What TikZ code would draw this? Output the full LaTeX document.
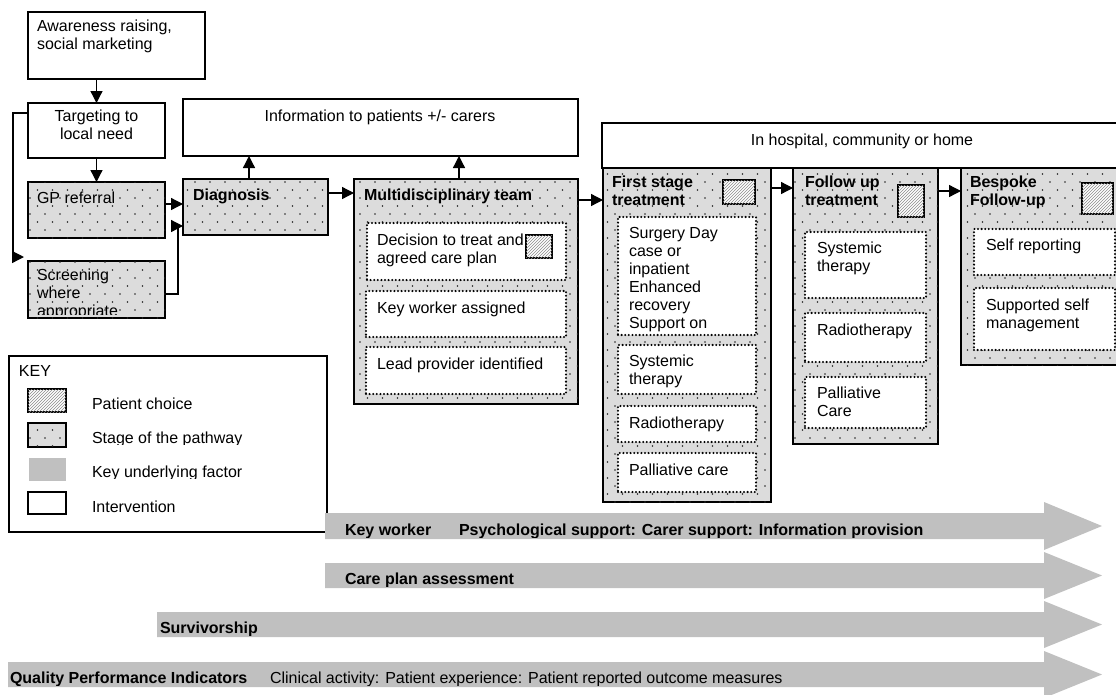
\documentclass[tikz,border=0pt]{standalone}
\usepackage{fontspec}
\setmainfont{Liberation Sans}
\usetikzlibrary{patterns,arrows.meta,fit}
\pgfdeclarepatternformonly{sparsedots}{\pgfqpoint{-1pt}{-1pt}}{\pgfqpoint{9pt}{9pt}}{\pgfqpoint{15pt}{16pt}}{%
  \pgfpathcircle{\pgfqpoint{0pt}{0pt}}{0.9pt}%
  \pgfpathcircle{\pgfqpoint{7.5pt}{8pt}}{0.9pt}%
  \pgfusepath{fill}}
\definecolor{stagefill}{RGB}{220,220,220}
\definecolor{keygray}{RGB}{192,192,192}
\newcommand\tstrut{\rule{0pt}{12pt}}
\newcommand\greyarrow[3]{%
  \fill[keygray] (#1,#2) -- (1044,#2) -- (1044,#2-11) -- (1102,{(#2+#3)/2}) -- (1044,#3+11) -- (1044,#3) -- (#1,#3) -- cycle;}
\tikzset{
  every node/.style={inner sep=0pt, outer sep=0pt},
  box/.style={draw, line width=1.3pt, fill=white},
  stage/.style={draw, line width=1.3pt, fill=stagefill, postaction={pattern=sparsedots, pattern color=black!85}},
  innerbox/.style={draw, fill=white, line width=2.3pt, dash pattern=on 0pt off 3.6pt, line cap=round},
  hatch/.style={draw, line width=1.4pt, fill=white, postaction={pattern=north east lines, pattern color=black!45}},
  band/.style={fill=keygray, draw=none},
  arr/.style={line width=1.3pt, -{Triangle[length=12pt,width=12pt]}},
  txt/.style={anchor=north west, align=left, font=\fontsize{16}{18}\selectfont, execute at begin node=\tstrut},
  btxt/.style={txt, font=\fontsize{16}{18}\selectfont\bfseries},
  ctxt/.style={txt, anchor=north, align=center},
}
\begin{document}
\begin{tikzpicture}[x=1pt,y=-1pt]
\useasboundingbox (0,0) rectangle (1116,694);
\clip (0,0) rectangle (1116,694);
\fill[white] (0,0) rectangle (1116,694);
% helper coordinates
\coordinate (c249) at (249,0);
\coordinate (c459) at (459,0);
\coordinate (y113) at (0,113);
\coordinate (y188) at (0,188);
\coordinate (y191) at (0,191);
\coordinate (y193) at (0,193);
\coordinate (y200) at (0,200);
\coordinate (y204) at (0,204);
\coordinate (y226) at (0,226);
\coordinate (y294) at (0,294);

% left column
\node[box, fit={(28,12)(205,79)}] (aw) {};
\node[txt] (awt) at (37,20) {Awareness raising,\\social marketing};
\node[box, fit={(28,103)(165,158)}] (tg) {};
\node[ctxt] (tgt) at (96.5,110) {Targeting to\\local need};
\node[stage, fit={(28,182)(165,238)}] (gp) {};
\node[txt] (gpt) at (37,191) {GP referral};
\node[stage, fit={(28,261)(165,318)}] (scr) {};
\begin{scope}
\clip (28,261) rectangle (165,314);
\node[txt] (scrt) at (37,269) {Screening\\where\\appropriate};
\end{scope}

% diagnosis, information, MDT
\node[stage, fit={(183,179)(328,235)}] (dg) {};
\node[btxt] (dgt) at (193,188) {Diagnosis};
\node[box, fit={(183,99)(578,156)}] (inf) {};
\node[ctxt] (inft) at (380,109) {Information to patients +/- carers};
\node[stage, fit={(354,179)(578,404)}] (mdt) {};
\node[btxt] (mdtt) at (364,188) {Multidisciplinary team};
\node[innerbox, fit={(367,223)(566,280)}] (dec) {};
\node[txt] (dect) at (377,234) {Decision to treat and\\agreed care plan};
\node[hatch, fit={(526,235)(552,258)}] (dech) {};
\node[innerbox, fit={(366,291)(566,337)}] (kw) {};
\node[txt] (kwt) at (377,301) {Key worker assigned};
\node[innerbox, fit={(366,347)(566,394)}] (lp) {};
\node[txt] (lpt) at (377,357) {Lead provider identified};

% hospital
\node[box, fit={(602,123)(1130,168)}] (hosp) {};
\node[ctxt] (hospt) at (862,133) {In hospital, community or home};
\node[stage, fit={(603,168)(771,502)}] (fs) {};
\node[btxt] (fst) at (612,176) {First stage\\treatment};
\node[hatch, fit={(723,180)(755,204)}] (fsh) {};
\node[innerbox, fit={(618,217)(756,335)}] (surg) {};
\node[txt] (surgt) at (629,227) {Surgery Day\\case or\\inpatient\\Enhanced\\recovery\\Support on};
\node[innerbox, fit={(618,345)(756,394)}] (fss) {};
\node[txt] (fsst) at (629,355) {Systemic\\therapy};
\node[innerbox, fit={(618,406)(756,442)}] (fsr) {};
\node[txt] (fsrt) at (629,416) {Radiotherapy};
\node[innerbox, fit={(618,453)(756,492)}] (fsp) {};
\node[txt] (fspt) at (629,463) {Palliative care};

\node[stage, fit={(793,168)(938,444)}] (fu) {};
\node[btxt] (fut) at (805,176) {Follow up\\treatment};
\node[hatch, fit={(898,185)(924,217)}] (fuh) {};
\node[innerbox, fit={(805,232)(926,298)}] (fus) {};
\node[txt] (fust) at (817,242) {Systemic\\therapy};
\node[innerbox, fit={(805,313)(926,362)}] (fur) {};
\node[txt] (furt) at (817,323) {Radiotherapy};
\node[innerbox, fit={(805,377)(926,428)}] (fup) {};
\node[txt] (fupt) at (817,387) {Palliative\\Care};

\node[stage, fit={(961,168)(1130,365)}] (bs) {};
\node[btxt] (bst) at (970,176) {Bespoke\\Follow-up};
\node[hatch, fit={(1082,183)(1113,214)}] (bsh) {};
\node[innerbox, fit={(974,229)(1115,275)}] (sr) {};
\node[txt] (srt) at (986,238) {Self reporting};
\node[innerbox, fit={(974,288)(1115,350)}] (ssm) {};
\node[txt] (ssmt) at (986,299) {Supported self\\management};

% connectors
\draw[arr] (aw.south -| tg.north) -- (tg.north);
\draw[arr] (tg.south) -- (gp.north);
\coordinate (fb) at (24,257);
\draw[arr] (tg.west |- y113) -- (13,113) -- (13,257) -- (fb);
\draw[arr] (gp.east |- y204) -- (dg.west |- y204);
\draw[arr] (scr.east |- y294) -- (178,294) -- (178,226) -- (dg.west |- y226);
\draw[arr] (dg.north -| c249) -- (inf.south -| c249);
\draw[arr] (mdt.north -| c459) -- (inf.south -| c459);
\draw[arr] (dg.east |- y193) -- (mdt.west |- y193);
\draw[arr] (mdt.east |- y200) -- (fs.west |- y200);
\draw[arr] (fs.east |- y188) -- (fu.west |- y188);
\draw[arr] (fu.east |- y191) -- (bs.west |- y191);

% key
\node[box, fit={(9,356)(327,532)}] (key) {};
\node[txt] (keyt) at (19,364) {KEY};
\node[hatch, fit={(28,389)(66,412)}] (k1) {};
\node[txt] (k1t) at (92,397) {Patient choice};
\node[stage, fit={(28,423)(66,447)}] (k2) {};
\begin{scope}
\clip (80,420) rectangle (320,444);
\node[txt] (k2t) at (92,431) {Stage of the pathway};
\end{scope}
\node[band, fit={(29,458)(66,481)}] (k3) {};
\begin{scope}
\clip (80,455) rectangle (320,478);
\node[txt] (k3t) at (92,465) {Key underlying factor};
\end{scope}
\node[box, fit={(28,492)(66,514)}] (k4) {};
\node[txt] (k4t) at (92,500) {Intervention};

% grey arrows
\greyarrow{325}{513}{539}
\greyarrow{325}{563}{588}
\greyarrow{157}{612}{637}
\greyarrow{8}{662}{687}
\begin{scope}
\clip (0,513) rectangle (1044,537);
\node[btxt] (a1a) at (345,523) {Key worker};
\node[btxt] (a1b) at (459,523) {Psychological support: Carer support: Information provision};
\end{scope}
\begin{scope}
\clip (0,563) rectangle (1044,586);
\node[btxt] (a2) at (345,572) {Care plan assessment};
\end{scope}
\begin{scope}
\clip (0,612) rectangle (1044,635);
\node[btxt] (a3) at (160,621) {Survivorship};
\end{scope}
\begin{scope}
\clip (0,662) rectangle (1044,685);
\node[btxt] (a4a) at (10,671) {Quality Performance Indicators};
\node[txt] (a4b) at (270,671) {Clinical activity: Patient experience: Patient reported outcome measures};
\end{scope}
\end{tikzpicture}
\end{document}
